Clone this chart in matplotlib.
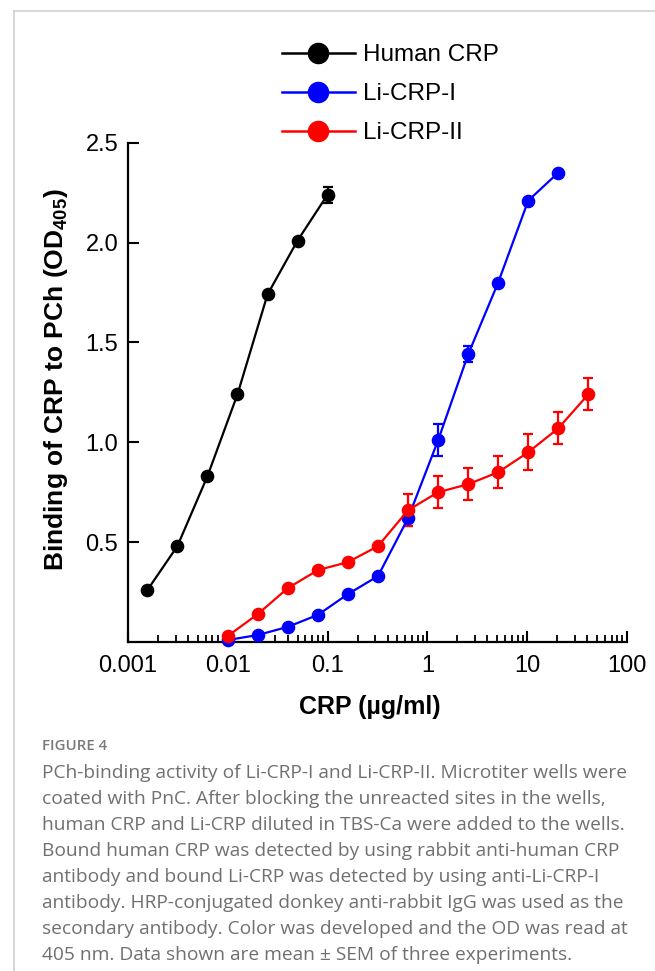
import matplotlib
matplotlib.use("Agg")
import matplotlib.pyplot as plt
from matplotlib.lines import Line2D
from matplotlib.ticker import LogLocator, FixedLocator, NullFormatter

plt.rcParams['font.family'] = ['Liberation Sans', 'DejaVu Sans']
plt.rcParams['mathtext.fontset'] = 'custom'
plt.rcParams['mathtext.rm'] = 'Liberation Sans'
plt.rcParams['mathtext.bf'] = 'Liberation Sans:bold'

# ---- data ----
human_x = [0.0015625, 0.003125, 0.00625, 0.0125, 0.025, 0.05, 0.1]
human_y = [0.26, 0.48, 0.83, 1.24, 1.74, 2.01, 2.24]
human_err = [0, 0, 0, 0, 0, 0, 0.04]

li1_x = [0.01, 0.02, 0.04, 0.08, 0.16, 0.32, 0.64, 1.28, 2.56, 5.12, 10.24, 20.48]
li1_y = [0.01, 0.035, 0.076, 0.136, 0.24, 0.33, 0.62, 1.01, 1.44, 1.80, 2.21, 2.35]
li1_err = [0, 0, 0, 0, 0, 0, 0.04, 0.08, 0.04, 0, 0, 0]

li2_x = [0.01, 0.02, 0.04, 0.08, 0.16, 0.32, 0.64, 1.28, 2.56, 5.12, 10.24, 20.48, 40.96]
li2_y = [0.03, 0.14, 0.27, 0.36, 0.40, 0.48, 0.66, 0.75, 0.79, 0.85, 0.95, 1.07, 1.24]
li2_err = [0, 0, 0, 0, 0, 0, 0.08, 0.08, 0.08, 0.08, 0.09, 0.08, 0.08]

labels = ['Human CRP', 'Li-CRP-I', 'Li-CRP-II']
colors = ['black', '#0000ff', '#ff0000']

y_ticks = [0.5, 1.0, 1.5, 2.0, 2.5]
y_ticklabels = ['0.5', '1.0', '1.5', '2.0', '2.5']
x_ticks = [0.001, 0.01, 0.1, 1, 10, 100]
x_ticklabels = ['0.001', '0.01', '0.1', '1', '10', '100']

caption_title = 'FIGURE 4'
caption_lines = [
    'PCh-binding activity of Li-CRP-I and Li-CRP-II. Microtiter wells were',
    'coated with PnC. After blocking the unreacted sites in the wells,',
    'human CRP and Li-CRP diluted in TBS-Ca were added to the wells.',
    'Bound human CRP was detected by using rabbit anti-human CRP',
    'antibody and bound Li-CRP was detected by using anti-Li-CRP-I',
    'antibody. HRP-conjugated donkey anti-rabbit IgG was used as the',
    'secondary antibody. Color was developed and the OD was read at',
    '405 nm. Data shown are mean \u00b1 SEM of three experiments.',
]

W, H = 655, 971
fig = plt.figure(figsize=(W / 100, H / 100), dpi=100)

# page frame lines (top and left)
fig.add_artist(Line2D([14 / W, 1], [1 - 11 / H, 1 - 11 / H], color='#d0d0d0', lw=1.2))
fig.add_artist(Line2D([14 / W, 14 / W], [0, 1 - 11 / H], color='#d0d0d0', lw=1.2))

ax = fig.add_axes([128 / W, 1 - 642 / H, 499 / W, (642 - 142.7) / H])

series = [(human_x, human_y, human_err), (li1_x, li1_y, li1_err), (li2_x, li2_y, li2_err)]
handles = []
for (xs, ys, es), lab, c in zip(series, labels, colors):
    eb = ax.errorbar(xs, ys, yerr=es, fmt='-o', color=c, ms=8.8, lw=1.6,
                     elinewidth=1.6, capsize=3.5, capthick=1.6, label=lab,
                     clip_on=False, zorder=5)
    eb.lines[0].set_clip_on(False)
    for art in list(eb.lines[1]) + list(eb.lines[2]):
        art.set_clip_on(False)
    handles.append(Line2D([], [], color=c, marker='o', ms=14.5, lw=1.8))

ax.set_xscale('log')
ax.set_xlim(0.001, 100)
ax.set_ylim(0, 2.5)
for s in ['top', 'right']:
    ax.spines[s].set_visible(False)
for s in ['left', 'bottom']:
    ax.spines[s].set_linewidth(1.6)

ax.xaxis.set_major_locator(FixedLocator(x_ticks))
ax.set_xticklabels(x_ticklabels)
ax.xaxis.set_minor_locator(LogLocator(base=10, subs=range(2, 10), numticks=20))
ax.xaxis.set_minor_formatter(NullFormatter())
ax.set_yticks(y_ticks)
ax.set_yticklabels(y_ticklabels)
ax.tick_params(axis='both', which='major', direction='in', length=8, width=1.5,
               labelsize=17)
ax.tick_params(axis='x', which='major', pad=9)
ax.tick_params(axis='y', which='major', pad=7)
ax.tick_params(axis='x', which='minor', direction='in', length=5, width=1.3)

ax.set_xlabel('CRP (\u00b5g/ml)', fontsize=18, fontweight='bold')
ax.xaxis.set_label_coords((370 - 128) / 499, -(695 - 642) / 499.3)
ax.set_ylabel(r'Binding of CRP to PCh (OD$_{\mathbf{405}}$)', fontsize=19,
              fontweight='bold')
ax.yaxis.set_label_coords(-(128 - 70) / 499, (642 - 380) / 499.3)

fig.legend(handles=handles, labels=labels, loc='upper left',
           bbox_to_anchor=(282 / W, 1 - 44 / H), frameon=False, fontsize=17.5,
           handlelength=3.0, handletextpad=0.35, labelspacing=0.7,
           borderpad=0, borderaxespad=0)

# caption
fig.text(42 / W, 1 - 746 / H, caption_title, fontsize=10.8, color='#7a7a7a',
         family=['Open Sans', 'DejaVu Sans'], fontweight='semibold', va='center')
for i, line in enumerate(caption_lines):
    fig.text(42 / W, 1 - (773 + 26 * i) / H, line, fontsize=13.8, color='#707070',
             family=['Open Sans', 'DejaVu Sans'], fontweight='normal', va='center')

fig.savefig('out.png', dpi=100)
